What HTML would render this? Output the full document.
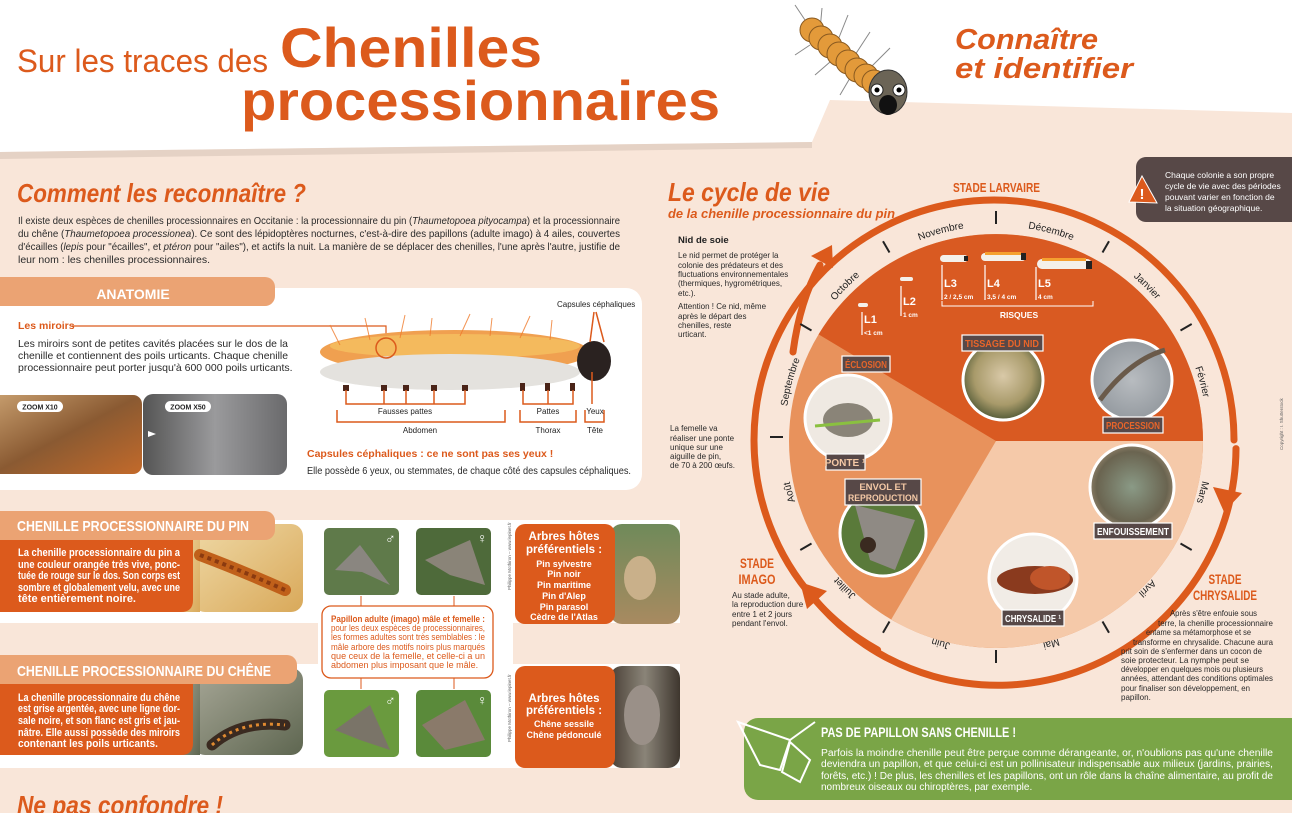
<!DOCTYPE html>
<html><head><meta charset="utf-8"><style>
html,body{margin:0;padding:0;background:#f9e6d9;}
svg{display:block;font-family:"Liberation Sans",sans-serif;}
</style></head><body>
<svg width="1292" height="813" viewBox="0 0 1292 813" xmlns="http://www.w3.org/2000/svg">
<defs>
<radialGradient id="gTis" cx="50%" cy="45%" r="60%"><stop offset="0" stop-color="#d9c9a8"/><stop offset=".6" stop-color="#a89a6a"/><stop offset="1" stop-color="#3d4a2a"/></radialGradient>
<radialGradient id="gPro" cx="50%" cy="50%" r="60%"><stop offset="0" stop-color="#b8bcc0"/><stop offset="1" stop-color="#8e949a"/></radialGradient>
<radialGradient id="gEnf" cx="50%" cy="50%" r="60%"><stop offset="0" stop-color="#8a9a86"/><stop offset=".7" stop-color="#6a6450"/><stop offset="1" stop-color="#b09a80"/></radialGradient>
<linearGradient id="gPin" x1="0" y1="0" x2="1" y2="1"><stop offset="0" stop-color="#efd9a6"/><stop offset="1" stop-color="#d9a95a"/></linearGradient>
<linearGradient id="gChe" x1="0" y1="0" x2="1" y2="1"><stop offset="0" stop-color="#a8a898"/><stop offset="1" stop-color="#5e6650"/></linearGradient>
<linearGradient id="gZ10" x1="0" y1="0" x2="1" y2="1"><stop offset="0" stop-color="#c9a070"/><stop offset=".5" stop-color="#8a5a32"/><stop offset="1" stop-color="#c46a2a"/></linearGradient>
<linearGradient id="gZ50" x1="0" y1="0" x2="1" y2="0"><stop offset="0" stop-color="#555"/><stop offset=".5" stop-color="#9a9a9c"/><stop offset="1" stop-color="#6a6a6c"/></linearGradient>
<linearGradient id="gTree" x1="0" y1="0" x2="0" y2="1"><stop offset="0" stop-color="#6f8a5a"/><stop offset="1" stop-color="#a88a60"/></linearGradient>
<linearGradient id="gBark" x1="0" y1="0" x2="1" y2="0"><stop offset="0" stop-color="#4a4036"/><stop offset=".5" stop-color="#8a8478"/><stop offset="1" stop-color="#3e362e"/></linearGradient>
<path id="mpath" d="M 785 437 A 211 211 0 1 1 1207 437 A 211 211 0 1 1 785 437"/>
</defs>

<!-- header -->
<polygon points="0,0 1292,0 1292,113 830,100 812,142 0,152" fill="#fff"/>
<polygon points="0,152 812,142 812,148 0,159" fill="#ddc9bc" opacity=".7"/>
<text x="17" y="72" font-size="32" fill="#dc5a1c" textLength="251" lengthAdjust="spacingAndGlyphs">Sur les traces des</text>
<text x="280" y="67" font-size="56" font-weight="bold" fill="#dc5a1c" textLength="262" lengthAdjust="spacingAndGlyphs">Chenilles</text>
<text x="241" y="120" font-size="56" font-weight="bold" fill="#dc5a1c" textLength="479" lengthAdjust="spacingAndGlyphs">processionnaires</text>
<text x="955" y="49" font-size="29" font-weight="bold" font-style="italic" fill="#dc5a1c" textLength="143" lengthAdjust="spacingAndGlyphs">Connaître</text>
<text x="955" y="78" font-size="29" font-weight="bold" font-style="italic" fill="#dc5a1c" textLength="178" lengthAdjust="spacingAndGlyphs">et identifier</text>
<!-- caterpillar icon -->
<g stroke="#888" stroke-width="1">
<line x1="805" y1="20" x2="795" y2="5"/><line x1="820" y1="30" x2="822" y2="8"/><line x1="838" y1="40" x2="848" y2="15"/><line x1="855" y1="55" x2="870" y2="32"/><line x1="870" y1="68" x2="890" y2="48"/><line x1="810" y1="45" x2="795" y2="55"/><line x1="830" y1="62" x2="815" y2="75"/><line x1="850" y1="78" x2="840" y2="95"/>
</g>
<g fill="#e39a3a" stroke="#8a5a20" stroke-width="1">
<circle cx="812" cy="30" r="12"/><circle cx="821" cy="38" r="12"/><circle cx="830" cy="46" r="12"/><circle cx="839" cy="54" r="12"/><circle cx="848" cy="62" r="12"/><circle cx="857" cy="70" r="12"/><circle cx="866" cy="76" r="12"/><circle cx="874" cy="82" r="12"/>
</g>
<ellipse cx="888" cy="92" rx="19" ry="22" fill="#6b6456" stroke="#333"/>
<circle cx="877" cy="90" r="6" fill="#fff" stroke="#222"/><circle cx="899" cy="90" r="6" fill="#fff" stroke="#222"/>
<circle cx="877" cy="90" r="2.5" fill="#000"/><circle cx="899" cy="90" r="2.5" fill="#000"/>
<ellipse cx="888" cy="105" rx="9" ry="10" fill="#111"/>

<!-- Comment les reconnaître -->
<text x="17" y="202" font-size="26" font-weight="bold" font-style="italic" fill="#dc5a1c" textLength="289" lengthAdjust="spacingAndGlyphs">Comment les reconnaître ?</text>
<g font-size="10.5" fill="#2a2a2a">
<text x="18" y="224" textLength="602" lengthAdjust="spacingAndGlyphs">Il existe deux espèces de chenilles processionnaires en Occitanie : la processionnaire du pin (<tspan font-style="italic">Thaumetopoea pityocampa</tspan>) et la processionnaire</text>
<text x="18" y="237" textLength="602" lengthAdjust="spacingAndGlyphs">du chêne (<tspan font-style="italic">Thaumetopoea processionea</tspan>). Ce sont des lépidoptères nocturnes, c'est-à-dire des papillons (adulte imago) à 4 ailes, couvertes</text>
<text x="18" y="250" textLength="602" lengthAdjust="spacingAndGlyphs">d'écailles (<tspan font-style="italic">lepis</tspan> pour "écailles", et <tspan font-style="italic">ptéron</tspan> pour "ailes"), et actifs la nuit. La manière de se déplacer des chenilles, l'une après l'autre, justifie de</text>
<text x="18" y="263">leur nom : les chenilles processionnaires.</text>
</g>

<!-- Anatomie -->
<rect x="-20" y="288" width="662" height="202" rx="16" fill="#fff"/>
<rect x="-20" y="277" width="295" height="29" rx="10" fill="#eba373"/>
<text x="133" y="299" font-size="14" font-weight="bold" fill="#fff" text-anchor="middle">ANATOMIE</text>
<text x="18" y="329" font-size="10.5" font-weight="bold" fill="#dc5a1c">Les miroirs</text>
<polyline points="72,326 386,326 386,338" fill="none" stroke="#dc5a1c" stroke-width="1.2"/>
<g font-size="10.5" fill="#2a2a2a">
<text x="18" y="347" textLength="270" lengthAdjust="spacingAndGlyphs">Les miroirs sont de petites cavités placées sur le dos de la</text>
<text x="18" y="359" textLength="270" lengthAdjust="spacingAndGlyphs">chenille et contiennent des poils urticants. Chaque chenille</text>
<text x="18" y="371">processionnaire peut porter jusqu'à 600 000 poils urticants.</text>
</g>
<rect x="-10" y="394" width="153" height="81" rx="10" fill="url(#gZ10)" stroke="#fff" stroke-width="2"/>
<rect x="143" y="394" width="144" height="81" rx="10" fill="url(#gZ50)"/>
<rect x="17" y="401" width="46" height="11" rx="5.5" fill="#fff"/><text x="40" y="409.5" font-size="7" font-weight="bold" fill="#222" text-anchor="middle">ZOOM X10</text>
<rect x="165" y="401" width="46" height="11" rx="5.5" fill="#fff"/><text x="188" y="409.5" font-size="7" font-weight="bold" fill="#222" text-anchor="middle">ZOOM X50</text>
<polygon points="148,431 156,434 148,437" fill="#fff"/>
<!-- caterpillar drawing -->
<ellipse cx="455" cy="352" rx="135" ry="22" fill="#f0a050"/>
<ellipse cx="455" cy="346" rx="125" ry="12" fill="#f5c060" opacity=".8"/>
<ellipse cx="450" cy="372" rx="130" ry="18" fill="#e4e2de"/>
<g stroke="#f07a2a" stroke-width="1" opacity=".8">
<line x1="340" y1="345" x2="330" y2="325"/><line x1="370" y1="340" x2="365" y2="318"/><line x1="400" y1="338" x2="405" y2="315"/><line x1="430" y1="336" x2="432" y2="318"/><line x1="460" y1="336" x2="470" y2="314"/><line x1="490" y1="336" x2="492" y2="318"/><line x1="520" y1="338" x2="530" y2="316"/><line x1="550" y1="340" x2="552" y2="320"/></g>
<g fill="#4a2418"><rect x="343" y="385" width="6" height="6"/><rect x="381" y="385" width="6" height="6"/><rect x="403" y="385" width="6" height="6"/><rect x="431" y="385" width="6" height="6"/><rect x="462" y="385" width="6" height="6"/><rect x="520" y="383" width="5" height="8"/><rect x="545" y="383" width="5" height="8"/><rect x="570" y="383" width="5" height="8"/></g>
<ellipse cx="594" cy="361" rx="17" ry="20" fill="#2a2220"/>
<circle cx="386" cy="348" r="10" fill="none" stroke="#dc5a1c" stroke-width="1.5"/>
<text x="557" y="307" font-size="8" fill="#222">Capsules céphaliques</text>
<g stroke="#dc5a1c" stroke-width="1.5" fill="none">
<line x1="594" y1="312" x2="590" y2="342"/><line x1="596" y1="312" x2="604" y2="342"/>
<polyline points="346,390 346,404 465,404 465,390"/><line x1="384" y1="404" x2="384" y2="390"/><line x1="406" y1="404" x2="406" y2="390"/><line x1="434" y1="404" x2="434" y2="390"/>
<polyline points="337,410 337,422 505,422 505,410"/>
<polyline points="523,390 523,404 573,404 573,390"/><line x1="548" y1="404" x2="548" y2="390"/>
<polyline points="520,410 520,422 576,422 576,410"/>
<line x1="592" y1="404" x2="592" y2="372"/>
<polyline points="585,410 585,422 604,422 604,410"/>
</g>
<g font-size="8" fill="#222" text-anchor="middle">
<text x="405" y="414">Fausses pattes</text><text x="420" y="433">Abdomen</text>
<text x="548" y="414">Pattes</text><text x="548" y="433">Thorax</text>
<text x="595" y="414">Yeux</text><text x="595" y="433">Tête</text>
</g>
<text x="307" y="457" font-size="10.5" font-weight="bold" fill="#dc5a1c">Capsules céphaliques : ce ne sont pas ses yeux !</text>
<text x="307" y="474" font-size="10.5" fill="#2a2a2a" textLength="324" lengthAdjust="spacingAndGlyphs">Elle possède 6 yeux, ou stemmates, de chaque côté des capsules céphaliques.</text>

<!-- species bands -->
<rect x="0" y="520" width="680" height="103" fill="#fff"/>
<rect x="0" y="664" width="680" height="104" fill="#fff"/>
<rect x="318" y="520" width="195" height="248" fill="#fff"/>
<!-- pin -->
<rect x="193" y="524" width="110" height="88" rx="12" fill="url(#gPin)"/>
<rect x="180" y="524" width="20" height="88" fill="url(#gPin)"/>
<path d="M200 555 Q240 570 285 590" stroke="#c0601a" stroke-width="12" fill="none" stroke-linecap="round"/>
<path d="M200 555 Q240 570 285 590" stroke="#8a3a10" stroke-width="4" fill="none" stroke-dasharray="4 4"/>
<rect x="-20" y="511" width="295" height="29" rx="10" fill="#eba373"/>
<text x="17" y="531" font-size="15" font-weight="bold" fill="#fff" textLength="232" lengthAdjust="spacingAndGlyphs">CHENILLE PROCESSIONNAIRE DU PIN</text>
<path d="M-10 540 H193 V600 Q193 612 181 612 H-10 Z" fill="#dc5a1c"/>
<g font-size="11" font-weight="bold" fill="#fff">
<text x="18" y="556" textLength="162" lengthAdjust="spacingAndGlyphs">La chenille processionnaire du pin a</text>
<text x="18" y="568" textLength="162" lengthAdjust="spacingAndGlyphs">une couleur orangée très vive, ponc-</text>
<text x="18" y="579" textLength="162" lengthAdjust="spacingAndGlyphs">tuée de rouge sur le dos. Son corps est</text>
<text x="18" y="591" textLength="162" lengthAdjust="spacingAndGlyphs">sombre et globalement velu, avec une</text>
<text x="18" y="602" textLength="118" lengthAdjust="spacingAndGlyphs">tête entièrement noire.</text>
</g>
<!-- chene -->
<rect x="193" y="668" width="110" height="87" rx="12" fill="url(#gChe)"/>
<rect x="180" y="668" width="20" height="87" fill="url(#gChe)"/>
<path d="M212 745 Q240 720 285 725" stroke="#3a2a20" stroke-width="11" fill="none" stroke-linecap="round"/>
<path d="M212 745 Q240 720 285 725" stroke="#e08a30" stroke-width="3" fill="none" stroke-dasharray="3 4"/>
<rect x="-20" y="655" width="317" height="29" rx="10" fill="#eba373"/>
<text x="17" y="676" font-size="15" font-weight="bold" fill="#fff" textLength="254" lengthAdjust="spacingAndGlyphs">CHENILLE PROCESSIONNAIRE DU CHÊNE</text>
<path d="M-10 684 H193 V743 Q193 755 181 755 H-10 Z" fill="#dc5a1c"/>
<g font-size="11" font-weight="bold" fill="#fff">
<text x="18" y="701" textLength="162" lengthAdjust="spacingAndGlyphs">La chenille processionnaire du chêne</text>
<text x="18" y="712" textLength="162" lengthAdjust="spacingAndGlyphs">est grise argentée, avec une ligne dor-</text>
<text x="18" y="724" textLength="162" lengthAdjust="spacingAndGlyphs">sale noire, et son flanc est gris et jau-</text>
<text x="18" y="736" textLength="162" lengthAdjust="spacingAndGlyphs">nâtre. Elle aussi possède des miroirs</text>
<text x="18" y="747" textLength="140" lengthAdjust="spacingAndGlyphs">contenant les poils urticants.</text>
</g>
<!-- moth photos -->
<g>
<rect x="324" y="528" width="75" height="67" rx="5" fill="#5f7a4a"/>
<polygon points="335,570 360,545 390,585 362,572" fill="#8a8680"/>
<rect x="416" y="528" width="75" height="67" rx="5" fill="#4e6a3a"/>
<polygon points="425,560 470,540 485,585 450,575" fill="#8a8478"/>
<rect x="324" y="690" width="75" height="67" rx="5" fill="#6a9a3e"/>
<polygon points="335,730 370,705 390,750 360,740" fill="#7a7468"/>
<rect x="416" y="690" width="75" height="67" rx="5" fill="#5a8a3a"/>
<polygon points="422,725 465,700 485,740 445,750" fill="#8a7a6a"/>
<g font-size="14" font-weight="bold" fill="#fff"><text x="385" y="543">♂</text><text x="477" y="543">♀</text><text x="385" y="705">♂</text><text x="477" y="705">♀</text></g>
</g>
<g stroke="#dc5a1c" stroke-width="1"><line x1="361" y1="596" x2="361" y2="606"/><line x1="454" y1="596" x2="454" y2="606"/><line x1="361" y1="678" x2="361" y2="689"/><line x1="454" y1="678" x2="454" y2="689"/></g>
<rect x="322" y="606" width="171" height="72" rx="9" fill="#fff" stroke="#dc5a1c" stroke-width="1.3"/>
<g font-size="9" fill="#dc5a1c">
<text x="331" y="622" font-weight="bold" textLength="154" lengthAdjust="spacingAndGlyphs">Papillon adulte (imago) mâle et femelle :</text>
<text x="331" y="631" textLength="154" lengthAdjust="spacingAndGlyphs">pour les deux espèces de processionnaires,</text>
<text x="331" y="640" textLength="154" lengthAdjust="spacingAndGlyphs">les formes adultes sont très semblables : le</text>
<text x="331" y="650" textLength="154" lengthAdjust="spacingAndGlyphs">mâle arbore des motifs noirs plus marqués</text>
<text x="331" y="659" textLength="154" lengthAdjust="spacingAndGlyphs">que ceux de la femelle, et celle-ci a un</text>
<text x="331" y="668">abdomen plus imposant que le mâle.</text>
</g>
<text transform="translate(511,590) rotate(-90)" font-size="4.5" fill="#666">Philippe Mothiron – www.lepinet.fr</text>
<text transform="translate(511,742) rotate(-90)" font-size="4.5" fill="#666">Philippe Mothiron – www.lepinet.fr</text>
<!-- host boxes -->
<rect x="610" y="524" width="70" height="100" rx="12" fill="url(#gTree)"/>
<ellipse cx="640" cy="578" rx="16" ry="22" fill="#c9b08a"/>
<rect x="515" y="524" width="100" height="100" rx="10" fill="#dc5a1c"/>
<rect x="610" y="666" width="70" height="102" rx="12" fill="url(#gBark)"/>
<ellipse cx="642" cy="715" rx="18" ry="30" fill="#9a9088"/>
<rect x="515" y="666" width="100" height="102" rx="10" fill="#dc5a1c"/>
<g font-size="10" font-weight="bold" fill="#fff" text-anchor="middle">
<text x="564" y="540" font-size="11.5">Arbres hôtes</text>
<text x="564" y="553" font-size="11.5">préférentiels :</text>
<text x="564" y="567" font-size="9">Pin sylvestre</text>
<text x="564" y="577" font-size="9">Pin noir</text>
<text x="564" y="588" font-size="9">Pin maritime</text>
<text x="564" y="599" font-size="9">Pin d'Alep</text>
<text x="564" y="610" font-size="9">Pin parasol</text>
<text x="564" y="620" font-size="9">Cèdre de l'Atlas</text>
<text x="564" y="702" font-size="11.5">Arbres hôtes</text>
<text x="564" y="714" font-size="11.5">préférentiels :</text>
<text x="564" y="727" font-size="9">Chêne sessile</text>
<text x="564" y="738" font-size="9">Chêne pédonculé</text>
</g>
<text x="17" y="814" font-size="26" font-weight="bold" font-style="italic" fill="#dc5a1c" textLength="206" lengthAdjust="spacingAndGlyphs">Ne pas confondre !</text>

<!-- Cycle de vie headings -->
<text x="668" y="201" font-size="26" font-weight="bold" font-style="italic" fill="#dc5a1c" textLength="162" lengthAdjust="spacingAndGlyphs">Le cycle de vie</text>
<text x="668" y="218" font-size="13" font-weight="bold" font-style="italic" fill="#dc5a1c" textLength="227" lengthAdjust="spacingAndGlyphs">de la chenille processionnaire du pin</text>
<text x="953" y="192" font-size="13" font-weight="bold" fill="#dc5a1c" textLength="87" lengthAdjust="spacingAndGlyphs">STADE LARVAIRE</text>
<rect x="1136" y="157" width="170" height="65" rx="10" fill="#574847"/>
<polygon points="1142,176 1129,202 1157,203" fill="#dc5a1c" stroke="#fff" stroke-width="1"/>
<text x="1142" y="199" font-size="15" font-weight="bold" fill="#fff" text-anchor="middle">!</text>
<g font-size="8.5" fill="#fff">
<text x="1165" y="178">Chaque colonie a son propre</text>
<text x="1165" y="189">cycle de vie avec des périodes</text>
<text x="1165" y="200">pouvant varier en fonction de</text>
<text x="1165" y="211">la situation géographique.</text>
</g>
<text x="678" y="243" font-size="9.5" font-weight="bold" fill="#222">Nid de soie</text>
<g font-size="8" fill="#2a2a2a">
<text x="678" y="258">Le nid permet de protéger la</text>
<text x="678" y="268">colonie des prédateurs et des</text>
<text x="678" y="277">fluctuations environnementales</text>
<text x="678" y="286">(thermiques, hygrométriques,</text>
<text x="678" y="296">etc.).</text>
<text x="678" y="309">Attention ! Ce nid, même</text>
<text x="678" y="319">après le départ des</text>
<text x="678" y="328">chenilles, reste</text>
<text x="678" y="337">urticant.</text>
<text x="670" y="431">La femelle va</text>
<text x="670" y="441">réaliser une ponte</text>
<text x="670" y="450">unique sur une</text>
<text x="670" y="459">aiguille de pin,</text>
<text x="670" y="468">de 70 à 200 œufs.</text>
<text x="732" y="598">Au stade adulte,</text>
<text x="732" y="607">la reproduction dure</text>
<text x="732" y="617">entre 1 et 2 jours</text>
<text x="732" y="626">pendant l'envol.</text>
</g>
<g font-size="14" font-weight="bold" fill="#dc5a1c" text-anchor="middle">
<text x="757" y="568" textLength="34" lengthAdjust="spacingAndGlyphs">STADE</text>
<text x="757" y="584" textLength="37" lengthAdjust="spacingAndGlyphs">IMAGO</text>
<text x="1225" y="584" textLength="33" lengthAdjust="spacingAndGlyphs">STADE</text>
<text x="1225" y="600" textLength="64" lengthAdjust="spacingAndGlyphs">CHRYSALIDE</text>
</g>
<text transform="translate(1283,450) rotate(-90)" font-size="4.5" fill="#666">Copyright : I. Shutterstock</text>

<!-- pie -->
<circle cx="996" cy="441" r="207" fill="#e8925c"/>
<path d="M996 441 L818.6 334.4 A207 207 0 0 1 1203 441 Z" fill="#d95a22"/>
<path d="M996 441 L1203 441 A207 207 0 0 1 891.2 619.5 Z" fill="#f5c9a9"/>

<!-- ring -->
<g stroke="#dc5a1c" stroke-width="7" fill="none" stroke-linecap="round">
<path d="M 877.6 649.9 A 240 240 0 1 1 1234 440"/>
<path d="M 1236 448.6 A 238 238 0 0 1 813 597"/>
<path d="M 793 352 Q 800 300 820 265"/>
</g>
<g fill="#dc5a1c">
<polygon points="800,582 827,591 807,609"/>
<polygon points="1224,512 1242,493 1213,487"/>
<polygon points="832,245 833,268 811,256"/>
</g>
<g font-size="8" fill="#2a2a2a">
<text x="1170" y="616" textLength="87" lengthAdjust="spacingAndGlyphs">Après s'être enfouie sous</text>
<text x="1158" y="626" textLength="115" lengthAdjust="spacingAndGlyphs">terre, la chenille processionnaire</text>
<text x="1146" y="635" textLength="105" lengthAdjust="spacingAndGlyphs">entame sa métamorphose et se</text>
<text x="1133" y="645" textLength="140" lengthAdjust="spacingAndGlyphs">transforme en chrysalide. Chacune aura</text>
<text x="1121" y="654" textLength="141" lengthAdjust="spacingAndGlyphs">prit soin de s'enfermer dans un cocon de</text>
<text x="1121" y="663" textLength="128" lengthAdjust="spacingAndGlyphs">soie protecteur. La nymphe peut se</text>
<text x="1121" y="672" textLength="142" lengthAdjust="spacingAndGlyphs">développer en quelques mois ou plusieurs</text>
<text x="1121" y="681" textLength="152" lengthAdjust="spacingAndGlyphs">années, attendant des conditions optimales</text>
<text x="1121" y="691" textLength="129" lengthAdjust="spacingAndGlyphs">pour finaliser son développement, en</text>
<text x="1121" y="700">papillon.</text>
</g>
<!-- ticks -->
<g stroke="#222" stroke-width="2">
<line x1="1180.5" y1="330.5" x2="1191.7" y2="324"/><line x1="1102.5" y1="252.5" x2="1109" y2="241.3"/><line x1="996" y1="224" x2="996" y2="211"/><line x1="889.5" y1="252.5" x2="883" y2="241.3"/><line x1="811.5" y1="330.5" x2="800.3" y2="324"/><line x1="783" y1="437" x2="770" y2="437"/><line x1="811.5" y1="543.5" x2="800.3" y2="550"/><line x1="889.5" y1="621.5" x2="883" y2="632.7"/><line x1="996" y1="650" x2="996" y2="663"/><line x1="1102.5" y1="621.5" x2="1109" y2="632.7"/><line x1="1180.5" y1="543.5" x2="1191.7" y2="550"/>
</g>
<g font-size="10" fill="#222" text-anchor="middle">
<text><textPath href="#mpath" startOffset="4.17%">Septembre</textPath></text>
<text><textPath href="#mpath" startOffset="12.5%">Octobre</textPath></text>
<text><textPath href="#mpath" startOffset="20.83%">Novembre</textPath></text>
<text><textPath href="#mpath" startOffset="29.17%">Décembre</textPath></text>
<text><textPath href="#mpath" startOffset="37.5%">Janvier</textPath></text>
<text><textPath href="#mpath" startOffset="45.83%">Février</textPath></text>
<text><textPath href="#mpath" startOffset="54.17%">Mars</textPath></text>
<text><textPath href="#mpath" startOffset="62.5%">Avril</textPath></text>
<text><textPath href="#mpath" startOffset="70.83%">Mai</textPath></text>
<text><textPath href="#mpath" startOffset="79.17%">Juin</textPath></text>
<text><textPath href="#mpath" startOffset="87.5%">Juillet</textPath></text>
<text><textPath href="#mpath" startOffset="95.83%">Août</textPath></text>
</g>

<!-- larval stages -->
<g fill="#f4f0ea">
<rect x="858" y="303" width="10" height="4" rx="2"/><rect x="900" y="277" width="13" height="4" rx="2"/>
<rect x="940" y="255" width="28" height="7" rx="3.5"/><rect x="981" y="253" width="45" height="8" rx="4"/><rect x="1037" y="259" width="55" height="10" rx="5"/>
</g>
<g fill="#f5a030"><rect x="985" y="252" width="36" height="3"/><rect x="1042" y="258" width="44" height="3"/></g>
<g fill="#222"><rect x="964" y="256" width="4" height="5"/><rect x="1021" y="253" width="5" height="7"/><rect x="1086" y="261" width="6" height="8"/></g>
<g stroke="#fff" stroke-width="1.2"><line x1="862" y1="312" x2="862" y2="335"/><line x1="901" y1="286" x2="901" y2="316"/><line x1="942" y1="265" x2="942" y2="300"/><line x1="985" y1="265" x2="985" y2="300"/><line x1="1036" y1="267" x2="1036" y2="300"/></g>
<polyline points="942,301 942,306 1093,306 1093,301" fill="none" stroke="#fff" stroke-width="1"/>
<g fill="#fff" font-weight="bold">
<text x="864" y="323" font-size="11">L1</text><text x="864" y="335" font-size="6.5">&lt;1 cm</text>
<text x="903" y="305" font-size="11">L2</text><text x="903" y="317" font-size="6.5">1 cm</text>
<text x="944" y="287" font-size="11">L3</text><text x="944" y="299" font-size="6.5">2 / 2,5 cm</text>
<text x="987" y="287" font-size="11">L4</text><text x="987" y="299" font-size="6.5">3,5 / 4 cm</text>
<text x="1038" y="287" font-size="11">L5</text><text x="1038" y="299" font-size="6.5">4 cm</text>
<text x="1019" y="318" font-size="8.5" text-anchor="middle">RISQUES</text>
</g>

<!-- photo circles -->
<g stroke="#fff" stroke-width="3">
<circle cx="848" cy="418" r="43" fill="#efe9e2"/>
<circle cx="883" cy="533" r="43" fill="#5a7a3a"/>
<circle cx="1003" cy="380" r="40" fill="url(#gTis)"/>
<circle cx="1132" cy="380" r="40" fill="url(#gPro)"/>
<circle cx="1132" cy="487" r="42" fill="url(#gEnf)"/>
<circle cx="1033" cy="578" r="44" fill="#f1ece6"/>
</g>
<ellipse cx="848" cy="420" rx="25" ry="17" fill="#8a8478"/>
<line x1="815" y1="426" x2="880" y2="420" stroke="#8ac040" stroke-width="3"/>
<polygon points="855,505 915,520 895,570 870,560" fill="#8f8a84"/>
<circle cx="868" cy="545" r="8" fill="#3a2a20"/>
<path d="M1100 400 Q1130 360 1165 350" stroke="#6a5a4a" stroke-width="5" fill="none"/>
<ellipse cx="1035" cy="580" rx="38" ry="14" fill="#8a3a1e"/>
<ellipse cx="1050" cy="578" rx="20" ry="12" fill="#c0552a"/>
<!-- photo labels -->
<g stroke="#fff" stroke-width="1.2" fill="#574847">
<rect x="842" y="356" width="48" height="16"/>
<rect x="962" y="335" width="81" height="16"/>
<rect x="1103" y="417" width="60" height="16"/>
<rect x="826" y="454" width="39" height="16"/>
<rect x="845" y="479" width="76" height="26"/>
<rect x="1094" y="523" width="78" height="16"/>
<rect x="1002" y="610" width="62" height="16"/>
</g>
<g font-size="10" font-weight="bold" text-anchor="middle">
<text x="866" y="368" fill="#e8652a" textLength="42" lengthAdjust="spacingAndGlyphs">ÉCLOSION</text>
<text x="1002" y="347" fill="#e8652a" textLength="74" lengthAdjust="spacingAndGlyphs">TISSAGE DU NID</text>
<text x="1133" y="429" fill="#e8652a" textLength="54" lengthAdjust="spacingAndGlyphs">PROCESSION</text>
<text x="845" y="466" fill="#f4c9a6">PONTE ¹</text>
<text x="883" y="490" fill="#f4c9a6" font-size="9.5">ENVOL ET</text>
<text x="883" y="501" fill="#f4c9a6" font-size="9.5" textLength="70" lengthAdjust="spacingAndGlyphs">REPRODUCTION</text>
<text x="1133" y="535" fill="#fff" textLength="72" lengthAdjust="spacingAndGlyphs">ENFOUISSEMENT</text>
<text x="1033" y="622" fill="#fff" textLength="56" lengthAdjust="spacingAndGlyphs">CHRYSALIDE ¹</text>
</g>

<!-- green box -->
<rect x="744" y="718" width="570" height="82" rx="14" fill="#7aa547"/>
<g fill="none" stroke="#fff" stroke-width="2">
<path d="M738 722 L790 740 L780 770 L760 765 Z"/>
<path d="M790 742 L810 760 L800 782 L782 772 Z"/>
<line x1="790" y1="740" x2="815" y2="722"/>
</g>
<text x="821" y="737" font-size="13.5" font-weight="bold" fill="#fff" textLength="195" lengthAdjust="spacingAndGlyphs">PAS DE PAPILLON SANS CHENILLE !</text>
<g font-size="10" fill="#fff">
<text x="821" y="756" textLength="452" lengthAdjust="spacingAndGlyphs">Parfois la moindre chenille peut être perçue comme dérangeante, or, n'oublions pas qu'une chenille</text>
<text x="821" y="767" textLength="452" lengthAdjust="spacingAndGlyphs">deviendra un papillon, et que celui-ci est un pollinisateur indispensable aux milieux (jardins, prairies,</text>
<text x="821" y="779" textLength="452" lengthAdjust="spacingAndGlyphs">forêts, etc.) ! De plus, les chenilles et les papillons, ont un rôle dans la chaîne alimentaire, au profit de</text>
<text x="821" y="790">nombreux oiseaux ou chiroptères, par exemple.</text>
</g>
</svg>
</body></html>
